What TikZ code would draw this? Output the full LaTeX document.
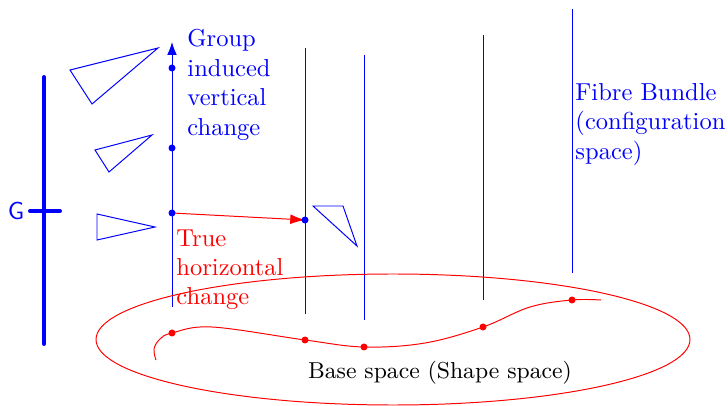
\documentclass[tikz,border=0pt]{standalone}
\usepackage{tikz}
\usepackage{xcolor}
\usetikzlibrary{arrows.meta}

\tikzset{
  fibre/.style={blue},
  tri/.style={blue},
  lbl/.style={inner sep=0pt,align=left,anchor=north west}
}

\begin{document}
\begin{tikzpicture}[x=0.408pt,y=-0.408pt,every node/.style={font=\normalsize}]
\useasboundingbox (0,0) rectangle (728,406);
% group bar
\draw[blue,line width=1.6pt,line cap=round] (44,77) -- (44,344);
\draw[blue,line width=1.6pt,line cap=round] (30,211) -- (60,211);
\node[blue,font=\sffamily] (G) at (16,211) {G};
% triangles
\draw[tri] (70,70) -- (158,48) -- (92,104) -- cycle;
\draw[tri] (95,150) -- (152,135) -- (109,172) -- cycle;
\draw[tri] (97,214) -- (155,227) -- (97,240) -- cycle;
\draw[tri] (313,206) -- (343,206) -- (357,246) -- cycle;
% fibres
\coordinate (f1top) at (172,42);
\coordinate (f1bot) at (172,307);
\draw[fibre,-{Latex[length=5.3pt,width=4pt]}] (f1bot) -- (f1top);
\draw[fibre] (305,48) -- (305,314);
\draw[fibre] (364,55) -- (364,320);
\draw[fibre] (483,35) -- (483,300);
\draw[fibre] (572,9) -- (572,273);
% base space
\draw[red] (393,339.5) ellipse [x radius=297, y radius=65.5];
\coordinate (b1) at (172,333);
\coordinate (b2) at (305,340);
\coordinate (b3) at (364,347);
\coordinate (b4) at (483,327);
\coordinate (b5) at (572,300);
\draw[red] plot[smooth,tension=0.6] coordinates {(156,360) (154,349) (160,339) (b1) (212,327) (b2) (b3) (425,343) (b4) (530,307) (b5) (601,300)};
\foreach \p in {b1,b2,b3,b4,b5} \fill[red] (\p) circle (3.5);
% horizontal lift
\coordinate (v1) at (172,68);
\coordinate (v2) at (172,148);
\coordinate (v3) at (172,213);
\coordinate (h1) at (305,220);
\draw[red,-{Latex[length=6pt,width=4pt]}] (v3) -- (h1);
\foreach \p in {v1,v2,v3,h1} \fill[blue] (\p) circle (3.5);
% labels
\node[lbl,blue] (grp) at (187,29) {Group\\induced\\vertical\\change};
\node[lbl,red] (hor) at (176,229) {True\\horizontal\\change};
\node[lbl,blue] (bun) at (575,83) {Fibre Bundle\\(configuration\\space)};
\node[font=\fontsize{9.4}{11}\selectfont] (base) at (440,373) {Base space (Shape space)};
\end{tikzpicture}
\end{document}
